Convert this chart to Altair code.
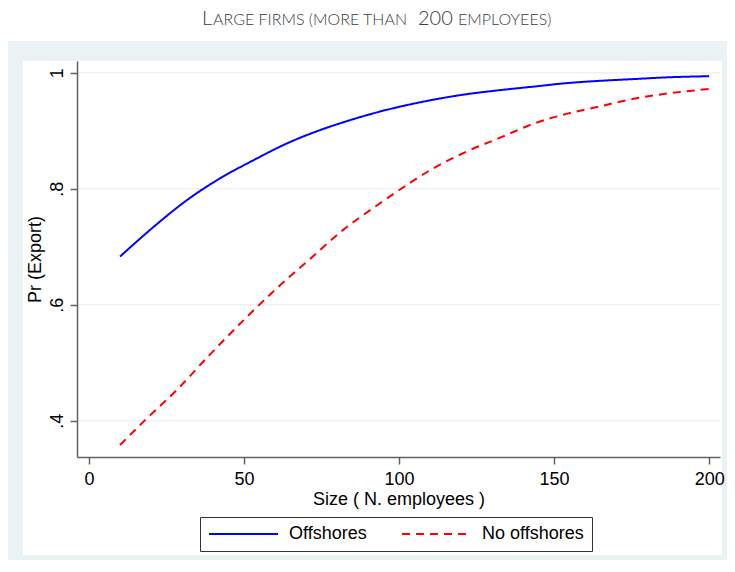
import altair as alt
import pandas as pd

SERIES = ["Offshores", "No offshores"]
OFF_X = [10, 20.8, 31.5, 42.3, 53, 63.8, 74.5, 85.3, 96, 106.8, 121.8, 132.6, 143.3, 154, 164.8, 175.6, 186.4, 200]
OFF_Y = [0.683, 0.734, 0.780, 0.818, 0.849, 0.878, 0.901, 0.920, 0.936, 0.949, 0.963, 0.970, 0.976, 0.982, 0.986, 0.989, 0.992, 0.994]
NOOFF_X = [10, 17.5, 28.3, 39, 49.8, 60.5, 71.3, 82, 92.8, 103.5, 111, 121.8, 132.6, 143.3, 154, 164.8, 175.6, 186.4, 200]
NOOFF_Y = [0.358, 0.398, 0.453, 0.514, 0.573, 0.628, 0.679, 0.729, 0.771, 0.810, 0.835, 0.864, 0.888, 0.912, 0.929, 0.942, 0.955, 0.964, 0.972]
X_TICKS = [0, 50, 100, 150, 200]
Y_TICKS = [0.4, 0.6, 0.8, 1.0]
TITLE_SEGMENTS = ["L", "ARGE FIRMS (MORE THAN", "200", "EMPLOYEES)"]
X_TITLE = "Size ( N. employees )"
Y_TITLE = "Pr (Export)"

df = pd.concat([
    pd.DataFrame({"size": OFF_X, "pr": OFF_Y, "series": SERIES[0]}),
    pd.DataFrame({"size": NOOFF_X, "pr": NOOFF_Y, "series": SERIES[1]}),
])

W, H = 643, 396
xs = alt.Scale(domain=[-3.87, 203.5], nice=False, zero=False)
ys = alt.Scale(domain=[0.3374, 1.0202], nice=False, zero=False)

x_axis = alt.Axis(values=X_TICKS, title=X_TITLE, labelPadding=6, titlePadding=2, zindex=1)
y_axis = alt.Axis(
    values=Y_TICKS, title=Y_TITLE, labelAngle=270, labelAlign="center", labelBaseline="alphabetic",
    labelPadding=8, titlePadding=4, zindex=1,
    labelExpr="datum.value >= 1 ? '1' : replace(format(datum.value, '.1f'), '0.', '.')")

one = pd.DataFrame({"a": [0]})

outer = alt.Chart(one).mark_rect(color="#eaf2f3").encode(
    x=alt.value(-69), x2=alt.value(650), y=alt.value(-20), y2=alt.value(499))
inner = alt.Chart(one).mark_rect(color="#ffffff").encode(
    x=alt.value(-54), x2=alt.value(645), y=alt.value(0), y2=alt.value(494))

grid = alt.Chart(pd.DataFrame({"pr": Y_TICKS})).mark_rule(color="#eaf2f3", strokeWidth=1.5).encode(
    y=alt.Y("pr:Q", scale=ys, axis=y_axis), x=alt.value(0), x2=alt.value(W))

lines = alt.Chart(df).mark_line(strokeWidth=2, interpolate="monotone").encode(
    x=alt.X("size:Q", scale=xs, axis=x_axis),
    y=alt.Y("pr:Q", scale=ys, axis=y_axis),
    color=alt.Color("series:N", scale=alt.Scale(domain=SERIES, range=["#0000ff", "#ff0000"]),
                    legend=alt.Legend(title=None)),
    strokeDash=alt.StrokeDash("series:N", scale=alt.Scale(domain=SERIES, range=[[1, 0], [8, 6]]),
                              legend=alt.Legend(title=None)),
)

title_pos = [(125, 20), (136, 16), (341, 20), (381, 16)]
title_layers = []
for seg, (lx, fs) in zip(TITLE_SEGMENTS, title_pos):
    title_layers.append(
        alt.Chart(pd.DataFrame({"t": [seg]})).mark_text(
            font="Lato", fontWeight=300, fontSize=fs, color="#3c3c3c", align="left", baseline="alphabetic"
        ).encode(text="t:N", x=alt.value(lx), y=alt.value(-36))
    )

chart = alt.layer(outer, inner, grid, lines, *title_layers).properties(
    width=W, height=H,
    autosize=alt.AutoSizeParams(type="none"),
    padding={"left": 69, "top": 53, "right": 7, "bottom": 103},
    background="white",
).configure_view(stroke="transparent").configure_axis(
    grid=False, domainColor="#606060", domainWidth=1.5, tickColor="#606060", tickWidth=1.5,
    tickSize=7, labelFont="Liberation Sans", labelFontSize=18, labelColor="black",
    titleFont="Liberation Sans", titleFontSize=18, titleFontWeight="normal", titleColor="black",
).configure_legend(
    orient="none", legendX=123, legendY=456, direction="horizontal", padding=8,
    strokeColor="#333333", fillColor="white", symbolType="M-1,0H7.625", symbolSize=256,
    symbolStrokeWidth=2, labelOffset=63, columnPadding=31, labelFont="Liberation Sans",
    labelFontSize=18, labelColor="black", cornerRadius=0, labelLimit=0,
)

chart.save("out.html", embed_options={"renderer": "svg", "actions": False})
